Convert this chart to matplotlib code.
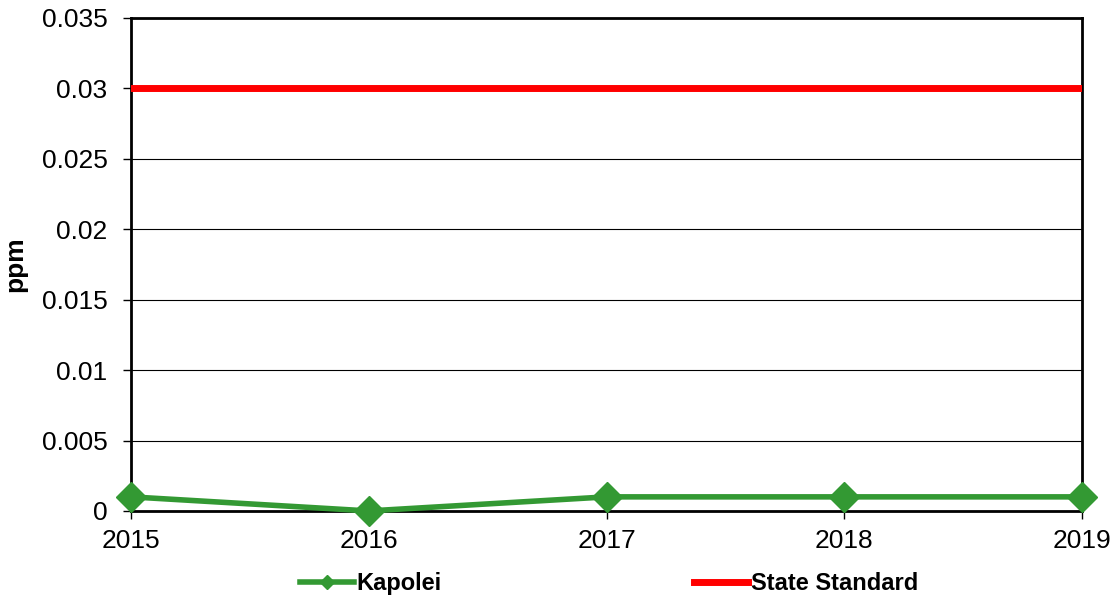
import matplotlib
matplotlib.use('Agg')
import matplotlib.pyplot as plt
from matplotlib.ticker import MultipleLocator, FuncFormatter

plt.rcParams['font.family'] = ['Liberation Sans', 'DejaVu Sans']

years = [2015, 2016, 2017, 2018, 2019]
kapolei = [0.001, 0.0, 0.001, 0.001, 0.001]
state_standard = [0.03, 0.03, 0.03, 0.03, 0.03]

fig = plt.figure(figsize=(11.15, 5.99), dpi=100)
ax = fig.add_axes([0.1175, 0.147, 0.853, 0.823])

ax.plot(years, state_standard, color='#ff0000', linewidth=5, label='State Standard', zorder=3)
ax.plot(years, kapolei, color='#339933', linewidth=4, marker='D', markersize=15,
        label='Kapolei', zorder=4, clip_on=False)

ax.set_xlim(2015, 2019)
ax.set_ylim(0, 0.035)
ax.set_xticks(years)
ax.yaxis.set_major_locator(MultipleLocator(0.005))
ax.yaxis.set_major_formatter(FuncFormatter(lambda v, p: '0' if abs(v) < 1e-12 else ('%.3f' % v).rstrip('0')))
ax.grid(axis='y', color='black', linewidth=0.8)
ax.set_axisbelow(True)
for s in ax.spines.values():
    s.set_linewidth(2)
ax.tick_params(axis='both', labelsize=19, direction='out', length=6, width=1, colors='black')
ax.tick_params(axis='y', pad=11)
ax.tick_params(axis='x', pad=7)
ax.set_ylabel('ppm', fontsize=19, fontweight='bold', labelpad=10)

h, l = ax.get_legend_handles_labels()
leg = fig.legend([h[1], h[0]], [l[1], l[0]], loc='center', bbox_to_anchor=(0.546, 0.026), ncol=2,
                 frameon=False, prop={'weight': 'bold', 'size': 17}, columnspacing=10.7,
                 handlelength=2.3, handletextpad=0.1, markerscale=0.5)

fig.savefig('out.png', dpi=100)
